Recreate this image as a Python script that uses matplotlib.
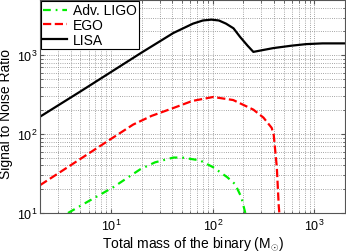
import matplotlib
matplotlib.use("Agg")
import matplotlib.pyplot as plt

plt.rcParams["font.family"] = ["Liberation Sans", "DejaVu Sans"]
plt.rcParams["mathtext.fontset"] = "custom"
plt.rcParams["mathtext.rm"] = "Liberation Sans"

# Adv. LIGO (green dash-dot)
ligo_mass = [3.77, 6, 10.5, 19.3, 27, 41, 50, 75, 101, 139, 166, 191, 209]
ligo_snr = [10, 14.1, 21.2, 35.7, 43.8, 50.4, 50.4, 46.4, 38, 28.4, 23.2, 15.9, 10]

# EGO (red dashed)
ego_mass = [2, 5, 10, 16.5, 25, 41, 63, 101, 159, 251, 315, 380, 398, 427, 446, 452]
ego_snr = [22.5, 48.5, 87, 132, 170, 214, 263, 295, 270, 204, 162, 120, 98, 38, 12.3, 10]

# LISA (black solid)
lisa_mass = [2, 5, 10, 20, 30, 41, 64, 80, 97, 115, 135, 160, 186, 220, 251,
             300, 396, 600, 830, 1200, 1780, 2000]
lisa_snr = [166, 347, 612, 1080, 1490, 1910, 2510, 2750, 2820, 2750, 2510, 2190,
            1700, 1320, 1100, 1150, 1230, 1320, 1380, 1410, 1410, 1410]

fig = plt.figure(figsize=(3.46, 2.53), dpi=100)
ax = fig.add_axes([40 / 346, 39 / 253, 305 / 346, 213 / 253])

ax.plot(ligo_mass, ligo_snr, color="#00ee00", lw=1.6, dashes=(3.5, 2.2, 0.8, 2.2),
        label="Adv. LIGO")
ax.plot(ego_mass, ego_snr, color="#ff0000", lw=1.6, linestyle="--", label="EGO")
ax.plot(lisa_mass, lisa_snr, color="black", lw=1.6, label="LISA")

ax.set_xscale("log")
ax.set_yscale("log")
ax.set_xlim(2, 2000)
ax.set_ylim(10, 5000)

ax.grid(True, which="both", linestyle=":", color="#888888", linewidth=0.6)
ax.tick_params(which="both", direction="in", top=True, right=True, labelsize=9,
               color="#555555")
ax.tick_params(which="major", length=3)
ax.tick_params(which="minor", length=1.8)
ax.tick_params(axis="y", pad=2)
for s in ax.spines.values():
    s.set_color("#555555")
    s.set_linewidth(0.8)

ax.set_xlabel(r"Total mass of the binary (M$_{\odot}$)", fontsize=10, labelpad=1)
ax.set_ylabel("Signal to Noise Ratio", fontsize=10)
ax.yaxis.set_label_coords(-0.088, 0.47)

leg = ax.legend(loc="upper left", fontsize=10, handlelength=1.7, fancybox=False,
                borderaxespad=0.1, borderpad=0.15, labelspacing=0.05,
                handletextpad=0.4, framealpha=1)
leg.get_frame().set_edgecolor("black")
leg.get_frame().set_linewidth(0.8)

fig.savefig("out.png", dpi=100)
